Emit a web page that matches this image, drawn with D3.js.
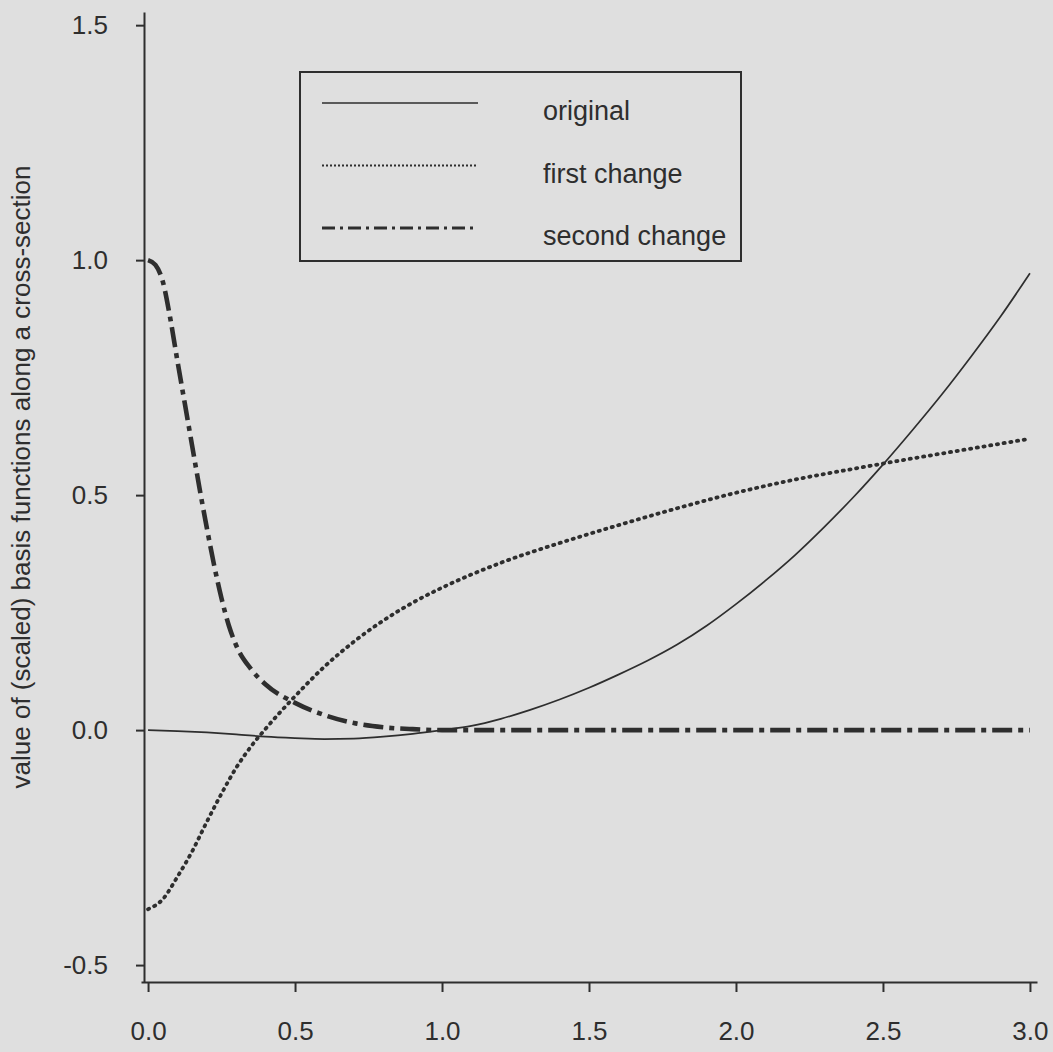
<!DOCTYPE html>
<html>
<head>
<meta charset="utf-8">
<script src="https://cdn.jsdelivr.net/npm/d3@7"></script>
<style>
  html, body { margin: 0; padding: 0; background: #dfdfdf; }
  svg { display: block; font-family: "Liberation Sans", Arial, sans-serif; }
</style>
</head>
<body>
<div id="chart"></div>
<script>
// values
const originalX = [0, 0.1, 0.2, 0.3, 0.4, 0.5, 0.6, 0.7, 0.8, 0.9, 1.0, 1.1, 1.2, 1.3, 1.4, 1.5, 1.6, 1.7, 1.8, 1.9, 2.0, 2.1, 2.2, 2.3, 2.4, 2.5, 2.6, 2.7, 2.8, 2.9, 3.0];
const originalY = [0, -0.002, -0.005, -0.009, -0.014, -0.017, -0.019, -0.018, -0.014, -0.008, 0, 0.009, 0.024, 0.043, 0.065, 0.09, 0.118, 0.148, 0.182, 0.222, 0.268, 0.318, 0.372, 0.432, 0.496, 0.565, 0.638, 0.714, 0.795, 0.88, 0.972];

const firstX = [0, 0.05, 0.1, 0.15, 0.2, 0.25, 0.3, 0.35, 0.4, 0.5, 0.6, 0.7, 0.8, 0.9, 1.0, 1.2, 1.4, 1.6, 1.8, 2.0, 2.2, 2.4, 2.6, 2.8, 3.0];
const firstY = [-0.381, -0.36, -0.312, -0.258, -0.195, -0.135, -0.08, -0.035, 0.003, 0.072, 0.135, 0.188, 0.233, 0.271, 0.303, 0.356, 0.398, 0.436, 0.472, 0.505, 0.533, 0.556, 0.578, 0.599, 0.62];

const secondX = [0, 0.025, 0.05, 0.075, 0.1, 0.125, 0.15, 0.175, 0.2, 0.225, 0.25, 0.275, 0.3, 0.35, 0.4, 0.5, 0.6, 0.7, 0.8, 0.9, 1.0, 1.5, 2.0, 2.5, 3.0];
const secondY = [1.0, 0.99, 0.955, 0.878, 0.785, 0.695, 0.605, 0.515, 0.43, 0.35, 0.28, 0.222, 0.18, 0.13, 0.097, 0.058, 0.032, 0.015, 0.006, 0.002, 0, 0, 0, 0, 0];

const xTicks = [0, 0.5, 1.0, 1.5, 2.0, 2.5, 3.0];
const yTicks = [-0.5, 0, 0.5, 1.0, 1.5];
const seriesNames = ['original', 'first change', 'second change'];
const yLabel = 'value of (scaled) basis functions along a cross-section';

const width = 1053;
const height = 1052;
const ink = '#2e2e2e';
const fmt = (d) => d.toFixed(1);

const scale = {
  x: d3.scaleLinear().domain([-0.024, 3.024]).range([141, 1037]),
  y: d3.scaleLinear().domain([-0.536, 1.528]).range([982, 12])
};

const svg = d3.select('#chart').append('svg')
  .attr('width', width)
  .attr('height', height);

svg.append('rect')
  .attr('width', width)
  .attr('height', height)
  .attr('fill', '#dfdfdf');

// axes
const xAxis = svg.append('g')
  .attr('transform', `translate(0, ${scale.y.range()[0]})`)
  .call(d3.axisBottom(scale.x)
    .tickValues(xTicks)
    .tickFormat(fmt)
    .tickSizeOuter(0)
    .tickSizeInner(10)
    .tickPadding(30));

const yAxis = svg.append('g')
  .attr('transform', `translate(${scale.x.range()[0] + 3}, 0)`)
  .call(d3.axisLeft(scale.y)
    .tickValues(yTicks)
    .tickFormat(fmt)
    .tickSizeOuter(0)
    .tickSizeInner(8)
    .tickPadding(28));

[xAxis, yAxis].forEach((ax) => {
  ax.select('.domain').attr('stroke', ink).attr('stroke-width', 2);
  ax.selectAll('.tick line').attr('stroke', ink).attr('stroke-width', 2);
  ax.selectAll('.tick text')
    .attr('fill', ink)
    .style('font-size', '26px')
    .style('font-family', '"Liberation Sans", Arial, sans-serif');
});

svg.append('text')
  .attr('transform', `translate(30, 477) rotate(-90)`)
  .attr('text-anchor', 'middle')
  .attr('fill', ink)
  .style('font-size', '26px')
  .text(yLabel);

// curves
const styles = [
  { width: 1.7, dash: null, cap: 'butt' },
  { width: 3.8, dash: '1.2 5.6', cap: 'round' },
  { width: 4.6, dash: '20 6 5 6', cap: 'butt' }
];
const legendStyles = [
  { width: 1.7, dash: null },
  { width: 2, dash: '2 2' },
  { width: 3, dash: '13 5 3 5' }
];

const series = [
  originalX.map((x, i) => [x, originalY[i]]),
  firstX.map((x, i) => [x, firstY[i]]),
  secondX.map((x, i) => [x, secondY[i]])
];

const line = d3.line()
  .x((d) => scale.x(d[0]))
  .y((d) => scale.y(d[1]))
  .curve(d3.curveMonotoneX);

svg.selectAll('.curve')
  .data(series)
  .enter()
  .append('path')
  .attr('class', 'curve')
  .attr('fill', 'none')
  .attr('stroke', ink)
  .attr('stroke-width', (d, i) => styles[i].width)
  .attr('stroke-dasharray', (d, i) => styles[i].dash)
  .attr('stroke-linecap', (d, i) => styles[i].cap)
  .attr('d', line);

// legend
const legend = svg.append('g').attr('class', 'legend');

legend.append('rect')
  .attr('x', 300)
  .attr('y', 72)
  .attr('width', 441)
  .attr('height', 189)
  .attr('fill', 'none')
  .attr('stroke', ink)
  .attr('stroke-width', 2);

legend.selectAll('line')
  .data(seriesNames)
  .enter()
  .append('line')
  .attr('x1', 322)
  .attr('x2', 478)
  .attr('y1', (d, i) => 103 + i * 62.5)
  .attr('y2', (d, i) => 103 + i * 62.5)
  .attr('stroke', ink)
  .attr('stroke-width', (d, i) => legendStyles[i].width)
  .attr('stroke-dasharray', (d, i) => legendStyles[i].dash);

legend.selectAll('text')
  .data(seriesNames)
  .enter()
  .append('text')
  .attr('x', 543)
  .attr('y', (d, i) => 120 + i * 62.5)
  .attr('fill', ink)
  .style('font-size', '27px')
  .text((d) => d);
</script>
</body>
</html>
